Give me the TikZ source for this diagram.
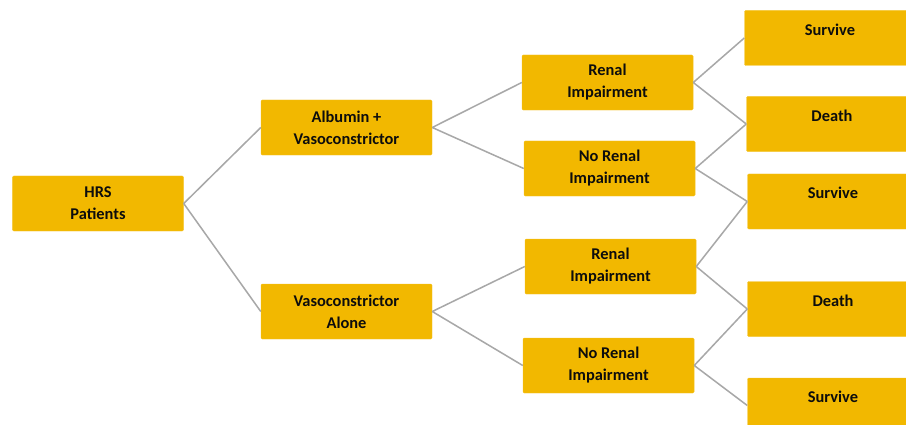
\documentclass[tikz,border=0pt]{standalone}
\usepackage{fontspec}
\setmainfont{Carlito}
\definecolor{caja}{RGB}{242,184,0}
\definecolor{linea}{RGB}{168,168,168}
\newcommand{\sube}[1]{\raisebox{2.5pt}[0pt][0pt]{#1}}
\tikzset{
  caja/.style={fill=caja, draw=caja!85!white, rounded corners=1pt,
    minimum width=5.13cm, minimum height=1.65cm, inner sep=0pt,
    align=center, font=\fontsize{14}{18.8}\selectfont\bfseries, text=black!95},
  rama/.style={draw=linea, line width=1.3pt}
}
\begin{document}
\begin{tikzpicture}[x=0.03cm, y=-0.03cm]
  \clip (0,0) rectangle (906,425);
  \node[caja] (hrs)    at (98,203.5)  {HRS\\Patients};
  \node[caja] (alb)    at (346.5,127.5) {Albumin +\\Vasoconstrictor};
  \node[caja] (vaso)   at (346.5,311.5) {Vasoconstrictor\\Alone};
  \node[caja] (ren1)   at (607.5,82.5)  {Renal\\Impairment};
  \node[caja] (noren1) at (609.5,168.5) {No Renal\\Impairment};
  \node[caja] (ren2)   at (610.5,266.5) {Renal\\Impairment};
  \node[caja] (noren2) at (608.5,365.5) {No Renal\\Impairment};
  \node[caja] (surv1)  at (830,38)    {\sube{Survive}};
  \node[caja] (death1) at (832,124)   {\sube{Death}};
  \node[caja] (surv2)  at (833,201.5) {\sube{Survive}};
  \node[caja] (death2) at (833,309)   {\sube{Death}};
  \node[caja] (surv3)  at (833,405.5) {\sube{Survive}};
  \draw[rama]
    (hrs.east) -- (alb.west)
    (hrs.east) -- (vaso.west)
    (alb.east) -- (ren1.west)
    (alb.east) -- (noren1.west)
    (vaso.east) -- (ren2.west)
    (vaso.east) -- (noren2.west)
    (ren1.east) -- (surv1.west)
    (ren1.east) -- (death1.west)
    (noren1.east) -- (death1.west)
    (noren1.east) -- (surv2.west)
    (ren2.east) -- (surv2.west)
    (ren2.east) -- (death2.west)
    (noren2.east) -- (death2.west)
    (noren2.east) -- (surv3.west)
    ;
\end{tikzpicture}
\end{document}
